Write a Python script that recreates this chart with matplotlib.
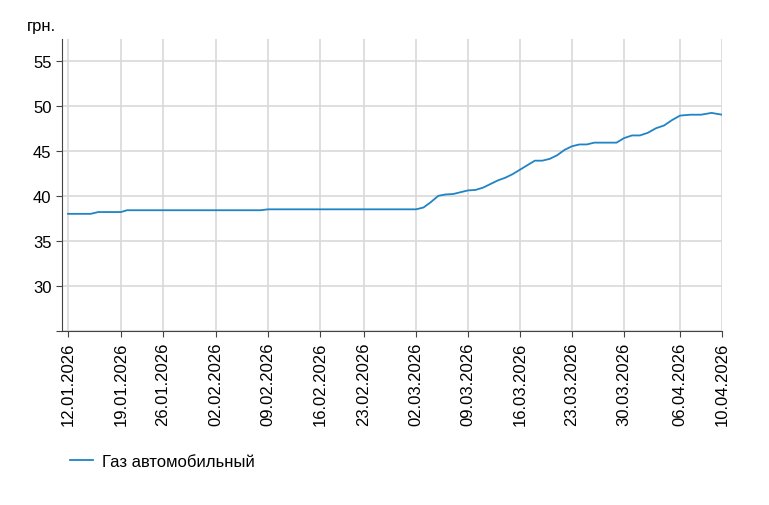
import matplotlib
matplotlib.use("Agg")
import matplotlib.pyplot as plt
import numpy as np
import pandas as pd

dates = pd.date_range("2026-01-12", "2026-04-10", freq="D")
v_jan = [38.0]*4 + [38.2]*4 + [38.4]*20          # 12.01 - 08.02
v_feb = [38.5]*21                                 # 09.02 - 01.03
v_mar = [38.5, 38.7, 39.3, 40.0, 40.15, 40.2, 40.4, 40.6, 40.65, 40.9,
         41.3, 41.7, 42.0, 42.4, 42.9, 43.4, 43.9, 43.9, 44.1, 44.5,
         45.1, 45.5, 45.7, 45.7, 45.9, 45.9, 45.9, 45.9, 46.4, 46.7]  # 02.03 - 31.03
v_apr = [46.7, 47.0, 47.5, 47.8, 48.4, 48.9, 49.0, 49.0, 49.2, 49.0]  # 01.04 - 10.04
values = v_jan + v_feb + v_mar + v_apr
tick_dates = pd.to_datetime(["2026-01-12", "2026-01-19", "2026-01-26", "2026-02-02", "2026-02-09",
                             "2026-02-16", "2026-02-23", "2026-03-02", "2026-03-09", "2026-03-16",
                             "2026-03-23", "2026-03-30", "2026-04-06", "2026-04-10"])
series_name = "Газ автомобильный"

# axis positions of the tick labels (the source axis is not spaced evenly by date)
tick_pos = np.array([68, 121, 163, 216, 268, 320, 364, 416, 468, 520, 572, 624, 680, 722], float)
day_num = (dates - dates[0]).days.values.astype(float)
tick_num = (tick_dates - dates[0]).days.values.astype(float)
xpos = np.interp(day_num, tick_num, tick_pos)

plt.rcParams['font.family'] = ['Liberation Sans', 'DejaVu Sans']
fig = plt.figure(figsize=(7.69, 5.06), dpi=100)
ax = fig.add_axes([62/769, 1-332/506, 660/769, 292/506])
ax.plot(xpos, values, color="#1f84c4", lw=1.3, label=series_name)
ax.set_ylim(25, 57.4)
ax.set_yticks([25, 30, 35, 40, 45, 50, 55])
ax.set_yticklabels(["", "30", "35", "40", "45", "50", "55"])
ax.set_xlim(62, 722)
ax.set_xticks(tick_pos)
ax.set_xticklabels([d.strftime("%d.%m.%Y") for d in tick_dates], rotation=90)
ax.grid(True, color="#d9d9d9", lw=1.2)
ax.set_axisbelow(True)
for s in ["top", "right"]:
    ax.spines[s].set_visible(False)
ax.spines["left"].set_color("#444444")
ax.spines["bottom"].set_color("#444444")
ax.tick_params(labelsize=12, color="#444444", length=4)
fig.text(27/769, 1-27/506, "грн.", fontsize=12, va="center")
fig.legend(loc="lower left", bbox_to_anchor=(55/769, 1-485/506), frameon=False, fontsize=12,
           handlelength=1.4, handletextpad=0.5)
fig.savefig("out.png", dpi=100)
